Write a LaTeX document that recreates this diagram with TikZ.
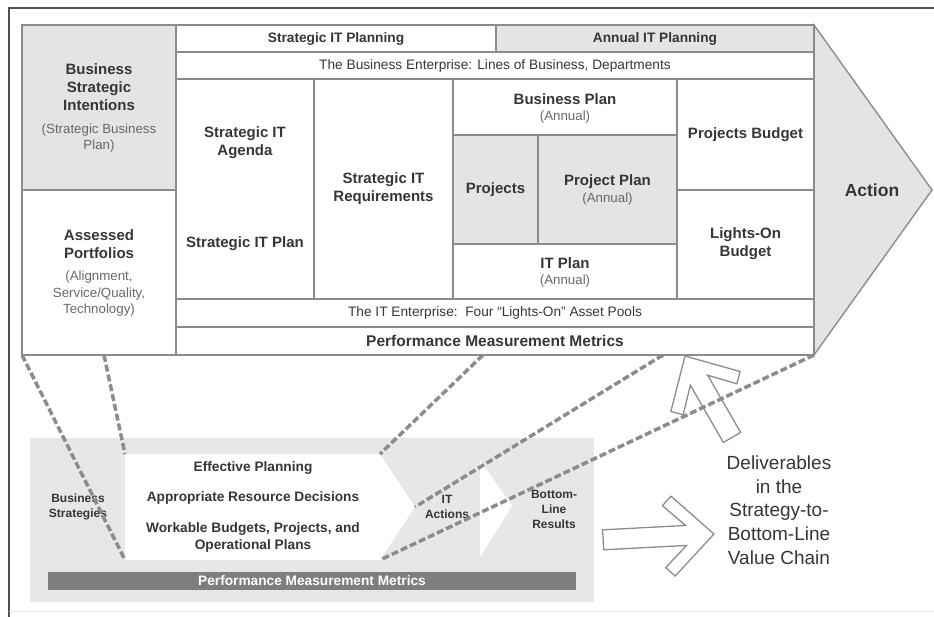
\documentclass[tikz,border=0pt]{standalone}
\usepackage{fontspec}
\setmainfont{Liberation Sans}
\definecolor{cellgray}{HTML}{E4E4E4}
\definecolor{bggray}{HTML}{E7E7E7}
\definecolor{linegray}{HTML}{8C8C8C}
\definecolor{bargray}{HTML}{7E7E7E}
\definecolor{textdark}{HTML}{363636}
\definecolor{textsub}{HTML}{686868}
\definecolor{framegray}{HTML}{505050}

% open block arrow: tip, rotation, length
\newcommand{\openarrow}[3]{%
  \begin{scope}[shift={#1}, rotate=#2]
    \draw[openarr] (-#3,-10) -- (-28,-10) -- (-50,-31) -- (-41,-40) -- (0,0)
      -- (-41,40) -- (-50,31) -- (-28,10) -- (-#3,10) -- cycle;
  \end{scope}}

\begin{document}
\begin{tikzpicture}[x=1pt, y=-1pt,
    cell/.style={draw=linegray, line width=1.4pt},
    shaded/.style={cell, fill=cellgray},
    lbl/.style={align=center, inner sep=0pt, text=textdark, font=\bfseries\fontsize{15}{18}\selectfont},
    head/.style={lbl, font=\bfseries\fontsize{13.7}{16}\selectfont},
    sub/.style={align=center, inner sep=0pt, text=textsub, font=\fontsize{13.3}{16.5}\selectfont},
    small/.style={lbl, font=\bfseries\fontsize{12}{15}\selectfont},
    link/.style={draw=linegray, line width=3.5pt, dash pattern=on 7pt off 3pt},
    openarr/.style={draw=linegray, line width=1.3pt}]
    \useasboundingbox (0,0) rectangle (934,617);

    % outer frame
    \draw[framegray, line width=1.8pt] (9,617) -- (9,8) -- (934,8);
    \draw[black!8, line width=1pt] (9,611) -- (934,611);

    % the action arrow behind the upper table
    \draw[shaded] (814,25) -- (932,190) -- (814,355) -- cycle;

    % upper table
    \draw[shaded] (22,25) rectangle (176,190);
    \draw[cell] (22,190) rectangle (176,355);
    \draw[cell] (176,25) rectangle (496,52);
    \draw[shaded] (496,25) rectangle (814,52);
    \draw[cell] (176,52) rectangle (814,79);
    \draw[cell] (176,79) rectangle (314,299);
    \draw[cell] (314,79) rectangle (453,299);
    \draw[cell] (453,79) rectangle (677,135);
    \draw[shaded] (453,135) rectangle (538,244);
    \draw[shaded] (538,135) rectangle (677,244);
    \draw[cell] (453,244) rectangle (677,299);
    \draw[cell] (677,79) rectangle (814,190);
    \draw[cell] (677,190) rectangle (814,299);
    \draw[cell] (176,299) rectangle (814,327);
    \draw[cell] (176,327) rectangle (814,355);

    \node[head] (plan-s) at (336,38.5) {Strategic IT Planning};
    \node[head] (plan-a) at (655,38.5) {Annual IT Planning};
    \node[sub, text=textdark, font=\fontsize{13.7}{16}\selectfont] (bizent) at (495,65.5)
        {The Business Enterprise: Lines of Business, Departments};

    \node[lbl] (bsi) at (99,87) {Business\\Strategic\\Intentions};
    \node[sub] (bsi-sub) at (99,138) {(Strategic Business\\Plan)};
    \node[lbl] (ap) at (99,244) {Assessed\\Portfolios};
    \node[sub] (ap-sub) at (99,294) {(Alignment,\\Service/Quality,\\Technology)};

    \node[lbl] (agenda) at (245,143) {Strategic IT\\Agenda};
    \node[lbl] (itplan) at (245,244) {Strategic IT Plan};
    \node[lbl] (req) at (383.5,189) {Strategic IT\\Requirements};

    \node[lbl] (bplan) at (565,99) {Business Plan};
    \node[sub] (bplan-sub) at (565,117) {(Annual)};
    \node[lbl] (projects) at (495.5,190) {Projects};
    \node[lbl] (pplan) at (607.5,182) {Project Plan};
    \node[sub] (pplan-sub) at (607.5,199) {(Annual)};
    \node[lbl] (itp) at (565,263) {IT Plan};
    \node[sub] (itp-sub) at (565,281) {(Annual)};

    \node[lbl] (pbudget) at (745.5,135) {Projects Budget};
    \node[lbl] (lobudget) at (745.5,244) {Lights-On\\Budget};

    \node[sub, text=textdark, font=\fontsize{13.7}{16}\selectfont] (itent) at (495,313)
        {The IT Enterprise:\ \ Four ``Lights-On'' Asset Pools};
    \node[lbl, font=\bfseries\fontsize{15.5}{18}\selectfont] (pmm) at (495,341)
        {Performance Measurement Metrics};
    \node[lbl, font=\bfseries\fontsize{17.5}{20}\selectfont] (action) at (872,190) {Action};

    % lower value chain
    \fill[bggray] (30,438) rectangle (594,602);
    \coordinate (wp-nw) at (125,454);
    \coordinate (wp-ne) at (380,454);
    \coordinate (wp-tip) at (415,507);
    \coordinate (wp-se) at (380,560);
    \coordinate (wp-sw) at (125,560);
    \fill[white] (wp-nw) -- (wp-ne) -- (wp-tip) -- (wp-se) -- (wp-sw) -- cycle;
    \fill[white] (480,460) -- (512,506) -- (480,557) -- cycle;
    \fill[bargray] (48,572) rectangle (576,590);

    \node[small] (bstrat) at (78,507) {Business\\Strategies};
    \node[head] (eff) at (253,468) {Effective Planning};
    \node[head] (resdec) at (253,498) {Appropriate Resource Decisions};
    \node[head, font=\bfseries\fontsize{13.7}{17}\selectfont] (work) at (253,537.5)
        {Workable Budgets, Projects, and\\Operational Plans};
    \node[small] (itact) at (447,506.5) {IT\\Actions};
    \node[small] (blr) at (554,509) {Bottom-\\Line\\Results};
    \node[head, text=white] (pmm-low) at (312,581) {Performance Measurement Metrics};

    \node[align=center, inner sep=0pt, text=textdark, font=\fontsize{19}{23.75}\selectfont] (deliv)
        at (779,510) {Deliverables\\in the\\Strategy-to-\\Bottom-Line\\Value Chain};

    % open arrows
    \openarrow{(685,356)}{120}{94}
    \openarrow{(714,534)}{3}{111}

    % dashed links between the two views
    \coordinate (top-sw) at (22,355);
    \coordinate (top-a) at (104,355);
    \coordinate (top-b) at (483,355);
    \coordinate (top-c) at (663,355);
    \coordinate (top-se) at (814,355);
    \draw[link] (top-sw) -- (wp-sw);
    \draw[link] (top-a) -- (wp-nw);
    \draw[link] (top-b) -- (wp-ne);
    \draw[link] (top-c) -- (wp-tip);
    \draw[link] (top-se) -- (wp-se);
\end{tikzpicture}
\end{document}
